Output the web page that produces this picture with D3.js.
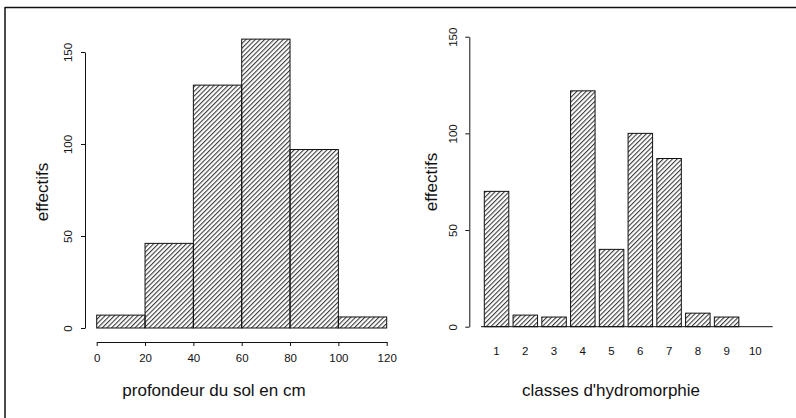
<!DOCTYPE html>
<html>
<head>
<meta charset="utf-8">
<script src="https://cdn.jsdelivr.net/npm/d3@7"></script>
<style>
  html, body { margin: 0; padding: 0; background: #fff; }
  svg { display: block; }
  text { font-family: "Liberation Sans", Arial, Helvetica, sans-serif; fill: #111; }
</style>
</head>
<body>
<svg id="chart" width="796" height="418"></svg>
<script>
// ---- data ----
const depthBins = [0, 20, 40, 60, 80, 100, 120];      // bin edges (cm)
const depthCounts = [7, 46, 132, 157, 97, 6];          // effectifs per bin
const depthTicks = [0, 20, 40, 60, 80, 100, 120];
const hydroClasses = ["1", "2", "3", "4", "5", "6", "7", "8", "9", "10"];
const hydroCounts = [70, 6, 5, 122, 40, 100, 87, 7, 5, 0];
const yTicks = [0, 50, 100, 150];
const leftXLabel = "profondeur du sol en cm";
const rightXLabel = "classes d'hydromorphie";
const yLabel = "effectifs";

const svg = d3.select("#chart");

// hatch pattern
const defs = svg.append("defs");
defs.append("pattern")
  .attr("id", "hatch")
  .attr("patternUnits", "userSpaceOnUse")
  .attr("width", 3.3).attr("height", 3.3)
  .attr("patternTransform", "rotate(45)")
  .append("line")
  .attr("x1", 0.6).attr("y1", 0).attr("x2", 0.6).attr("y2", 3.3)
  .attr("stroke", "#111").attr("stroke-width", 0.9);

// frame (top and left)
svg.append("line").attr("x1", 5).attr("y1", 7.5).attr("x2", 796).attr("y2", 7.5)
  .attr("stroke", "#111").attr("stroke-width", 1.3);
svg.append("line").attr("x1", 5).attr("y1", 7).attr("x2", 5).attr("y2", 418)
  .attr("stroke", "#111").attr("stroke-width", 1.5);

function styleYAxis(g, off) {
  g.selectAll("path, line").attr("stroke", "#111").attr("stroke-width", 1);
  g.selectAll("text")
    .attr("transform", "rotate(-90)")
    .attr("x", 0).attr("y", -off).attr("dy", "0.35em")
    .attr("text-anchor", "middle")
    .style("font-size", "11.5px")
    .style("font-family", "'Liberation Sans', Arial, sans-serif")
    .attr("fill", "#111");
}

// ---------- LEFT: histogram ----------
const xL = d3.scaleLinear().domain([0, 120]).range([96.7, 386.7]);
const yL = d3.scaleLinear().domain([0, 150]).range([328, 52]);

const binsData = depthCounts.map((c, i) => ({ x0: depthBins[i], x1: depthBins[i + 1], c }));
svg.append("g").selectAll("rect").data(binsData).join("rect")
  .attr("x", d => xL(d.x0)).attr("width", d => xL(d.x1) - xL(d.x0))
  .attr("y", d => yL(d.c)).attr("height", d => yL(0) - yL(d.c))
  .attr("fill", "url(#hatch)").attr("stroke", "#111").attr("stroke-width", 1);

const gyL = svg.append("g").attr("transform", "translate(85,0)")
  .call(d3.axisLeft(yL).tickValues(yTicks).tickSize(4).tickSizeOuter(0));
styleYAxis(gyL, 17);

const gxL = svg.append("g").attr("transform", "translate(0,342)")
  .call(d3.axisBottom(xL).tickValues(depthTicks).tickSize(4).tickSizeOuter(0));
gxL.selectAll("path, line").attr("stroke", "#111").attr("stroke-width", 1);
gxL.selectAll("text").attr("y", 16).attr("dy", "0.35em")
  .style("font-size", "11.5px").style("font-family", "'Liberation Sans', Arial, sans-serif").attr("fill", "#111");

svg.append("text").attr("x", 214).attr("y", 390).attr("dy", "0.35em")
  .attr("text-anchor", "middle").style("font-size", "17px").text(leftXLabel);
svg.append("text").attr("transform", "translate(42,192) rotate(-90)").attr("dy", "0.35em")
  .attr("text-anchor", "middle").style("font-size", "17px").text(yLabel);

// ---------- RIGHT: bar chart ----------
const xR = d3.scaleBand().domain(hydroClasses).range([484.3, 767.6]).paddingInner(0.148).paddingOuter(0);
const yR = d3.scaleLinear().domain([0, 150]).range([326.7, 36.7]);

svg.append("g").selectAll("rect").data(hydroClasses.map((k, i) => ({ k, c: hydroCounts[i] }))).join("rect")
  .attr("x", d => xR(d.k)).attr("width", xR.bandwidth())
  .attr("y", d => yR(d.c)).attr("height", d => yR(0) - yR(d.c))
  .attr("fill", "url(#hatch)").attr("stroke", "#111").attr("stroke-width", 1);

svg.append("line").attr("x1", 481).attr("x2", 772.7).attr("y1", yR(0)).attr("y2", yR(0))
  .attr("stroke", "#111").attr("stroke-width", 1);

const gyR = svg.append("g").attr("transform", "translate(469.3,0)")
  .call(d3.axisLeft(yR).tickValues(yTicks).tickSize(4).tickSizeOuter(0));
styleYAxis(gyR, 16.6);

const gxR = svg.append("g").attr("transform", "translate(0,351)")
  .call(d3.axisBottom(xR).tickSize(0));
gxR.select(".domain").remove();
gxR.selectAll("text").attr("y", 0).attr("dy", "0.35em")
  .style("font-size", "11.5px").style("font-family", "'Liberation Sans', Arial, sans-serif").attr("fill", "#111");

svg.append("text").attr("x", 611).attr("y", 390).attr("dy", "0.35em")
  .attr("text-anchor", "middle").style("font-size", "17px").text(rightXLabel);
svg.append("text").attr("transform", "translate(431,182) rotate(-90)").attr("dy", "0.35em")
  .attr("text-anchor", "middle").style("font-size", "17px").text(yLabel);
</script>
</body>
</html>
